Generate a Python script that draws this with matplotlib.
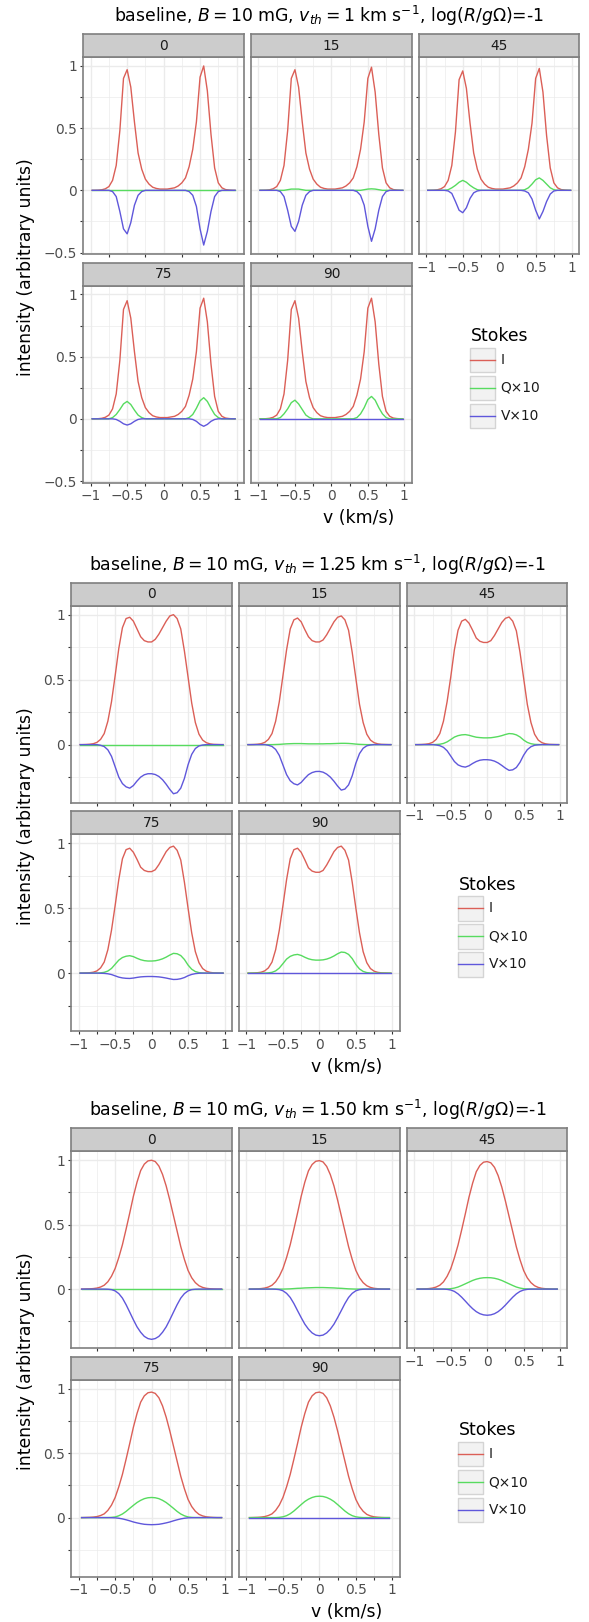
import matplotlib
matplotlib.use("Agg")
import matplotlib.pyplot as plt  # noqa: E402
from matplotlib.ticker import MultipleLocator, FuncFormatter  # noqa: E402
from matplotlib.patches import Rectangle  # noqa: E402

# ---- data: velocity grid (km/s) and Stokes profiles ----
ANGLES = ["0", "15", "45", "75", "90"]
VTH_LABELS = ["1", "1.25", "1.50"]

VEL_A = [-0.98, -0.95, -0.9, -0.85, -0.8, -0.75, -0.7, -0.65, -0.6, -0.55, -0.5,
         -0.45, -0.4, -0.35, -0.3, -0.25, -0.2, -0.15, -0.1, -0.05, 0.0,
         0.05, 0.1, 0.15, 0.2, 0.25, 0.3, 0.35, 0.4, 0.45, 0.5,
         0.55, 0.6, 0.65, 0.7, 0.75, 0.8, 0.85, 0.9, 0.95, 0.98]
VEL_B = [-0.96, -0.95, -0.9, -0.85, -0.8, -0.75, -0.7, -0.65, -0.6, -0.55, -0.5,
         -0.45, -0.4, -0.35, -0.3, -0.25, -0.2, -0.15, -0.1, -0.05, 0.0,
         0.05, 0.1, 0.15, 0.2, 0.25, 0.3, 0.35, 0.4, 0.45, 0.5,
         0.55, 0.6, 0.65, 0.7, 0.75, 0.8, 0.85, 0.9, 0.95, 0.96]

# block 1: v_th = 1 km/s
I1_0 = [0, 0, 0.001, 0.004, 0.012, 0.03, 0.08, 0.2, 0.48, 0.9, 0.97, 0.83, 0.55, 0.3, 0.17,
        0.09, 0.05, 0.025, 0.015, 0.01, 0.01, 0.01, 0.015, 0.02, 0.035, 0.06, 0.1, 0.19,
        0.33, 0.55, 0.91, 1.0, 0.8, 0.45, 0.18, 0.06, 0.02, 0.006, 0.002, 0, 0]
I1_15 = [0, 0, 0.001, 0.004, 0.012, 0.03, 0.08, 0.2, 0.48, 0.9, 0.97, 0.83, 0.55, 0.3, 0.17,
         0.09, 0.05, 0.025, 0.015, 0.01, 0.01, 0.01, 0.015, 0.02, 0.035, 0.06, 0.1, 0.19,
         0.33, 0.55, 0.9, 0.99, 0.79, 0.45, 0.18, 0.06, 0.02, 0.006, 0.002, 0, 0]
I1_45 = [0, 0, 0.001, 0.004, 0.012, 0.03, 0.08, 0.2, 0.47, 0.89, 0.96, 0.82, 0.54, 0.3, 0.17,
         0.09, 0.05, 0.025, 0.015, 0.01, 0.01, 0.01, 0.015, 0.02, 0.035, 0.06, 0.1, 0.19,
         0.33, 0.54, 0.9, 0.98, 0.79, 0.44, 0.18, 0.06, 0.02, 0.006, 0.002, 0, 0]
I1_75 = [0, 0, 0.001, 0.004, 0.012, 0.03, 0.08, 0.2, 0.47, 0.88, 0.95, 0.81, 0.54, 0.3, 0.17,
         0.09, 0.05, 0.025, 0.015, 0.01, 0.01, 0.01, 0.015, 0.02, 0.035, 0.06, 0.1, 0.19,
         0.32, 0.54, 0.89, 0.97, 0.78, 0.44, 0.18, 0.06, 0.02, 0.006, 0.002, 0, 0]
I1_90 = [0, 0, 0.001, 0.004, 0.012, 0.03, 0.08, 0.2, 0.47, 0.88, 0.95, 0.81, 0.54, 0.3, 0.17,
         0.09, 0.05, 0.025, 0.015, 0.01, 0.01, 0.01, 0.015, 0.02, 0.035, 0.06, 0.1, 0.19,
         0.32, 0.54, 0.89, 0.97, 0.78, 0.44, 0.18, 0.06, 0.02, 0.006, 0.002, 0, 0]
Q1_0 = [0] * 41
Q1_15 = [0, 0, 0, 0, 0, 0, 0, 0, 0.005, 0.01, 0.01, 0.01, 0.005, 0, 0,
         0, 0, 0, 0, 0, 0, 0, 0, 0, 0, 0, 0,
         0, 0, 0.005, 0.01, 0.012, 0.01, 0.005, 0, 0, 0, 0, 0, 0, 0]
Q1_45 = [0, 0, 0, 0, 0, 0, 0.005, 0.02, 0.04, 0.065, 0.08, 0.065, 0.04, 0.02, 0.005,
         0, 0, 0, 0, 0, 0, 0, 0, 0, 0, 0, 0,
         0.005, 0.02, 0.05, 0.085, 0.1, 0.08, 0.05, 0.02, 0.005, 0, 0, 0, 0, 0]
Q1_75 = [0, 0, 0, 0, 0, 0, 0.01, 0.035, 0.075, 0.12, 0.14, 0.115, 0.07, 0.03, 0.01,
         0, 0, 0, 0, 0, 0, 0, 0, 0, 0, 0, 0,
         0.01, 0.035, 0.085, 0.145, 0.17, 0.14, 0.085, 0.035, 0.01, 0, 0, 0, 0, 0]
Q1_90 = [0, 0, 0, 0, 0, 0, 0.01, 0.04, 0.08, 0.13, 0.15, 0.12, 0.075, 0.03, 0.01,
         0, 0, 0, 0, 0, 0, 0, 0, 0, 0, 0, 0,
         0.01, 0.04, 0.09, 0.155, 0.18, 0.15, 0.09, 0.04, 0.01, 0, 0, 0, 0, 0]
V1_0 = [0, 0, 0, 0, 0, 0, -0.01, -0.05, -0.17, -0.31, -0.35, -0.26, -0.12, -0.04, -0.01,
        0, 0, 0, 0, 0, 0, 0, 0, 0, 0, 0, 0,
        -0.01, -0.04, -0.13, -0.31, -0.44, -0.33, -0.17, -0.05, -0.01, 0, 0, 0, 0, 0]
V1_15 = [0, 0, 0, 0, 0, 0, -0.01, -0.05, -0.16, -0.29, -0.33, -0.25, -0.12, -0.04, -0.01,
         0, 0, 0, 0, 0, 0, 0, 0, 0, 0, 0, 0,
         -0.01, -0.04, -0.12, -0.29, -0.41, -0.31, -0.16, -0.05, -0.01, 0, 0, 0, 0, 0]
V1_45 = [0, 0, 0, 0, 0, 0, -0.005, -0.025, -0.09, -0.16, -0.18, -0.14, -0.065, -0.02, -0.005,
         0, 0, 0, 0, 0, 0, 0, 0, 0, 0, 0, 0,
         -0.005, -0.02, -0.07, -0.16, -0.23, -0.17, -0.09, -0.03, -0.005, 0, 0, 0, 0, 0]
V1_75 = [0, 0, 0, 0, 0, 0, 0, -0.005, -0.02, -0.04, -0.05, -0.04, -0.02, -0.005, 0,
         0, 0, 0, 0, 0, 0, 0, 0, 0, 0, 0, 0,
         0, -0.005, -0.02, -0.045, -0.06, -0.045, -0.02, -0.005, 0, 0, 0, 0, 0, 0]
V1_90 = [0] * 41

# block 2: v_th = 1.25 km/s
I2_0 = [0, 0, 0.001, 0.003, 0.007, 0.017, 0.04, 0.085, 0.18, 0.33, 0.53, 0.74, 0.9, 0.97,
        0.98, 0.95, 0.89, 0.83, 0.8, 0.79, 0.79, 0.81, 0.85, 0.9, 0.95, 0.99, 1.0, 0.97,
        0.89, 0.72, 0.52, 0.32, 0.17, 0.08, 0.035, 0.015, 0.006, 0.002, 0.001, 0, 0]
I2_15 = [0, 0, 0.001, 0.003, 0.007, 0.017, 0.04, 0.085, 0.18, 0.33, 0.53, 0.73, 0.89, 0.96,
         0.974, 0.945, 0.885, 0.83, 0.8, 0.79, 0.79, 0.805, 0.845, 0.895, 0.945, 0.98, 0.99,
         0.96, 0.88, 0.71, 0.51, 0.31, 0.17, 0.08, 0.035, 0.015, 0.006, 0.002, 0.001, 0, 0]
I2_45 = [0, 0, 0.001, 0.003, 0.007, 0.017, 0.04, 0.085, 0.18, 0.33, 0.52, 0.73, 0.88, 0.95,
         0.964, 0.935, 0.88, 0.82, 0.795, 0.786, 0.786, 0.8, 0.84, 0.89, 0.94, 0.972, 0.982,
         0.95, 0.875, 0.71, 0.51, 0.31, 0.17, 0.08, 0.035, 0.015, 0.006, 0.002, 0.001, 0, 0]
I2_75 = [0, 0, 0.001, 0.003, 0.007, 0.017, 0.04, 0.085, 0.18, 0.33, 0.52, 0.72, 0.88, 0.95,
         0.961, 0.93, 0.875, 0.815, 0.79, 0.781, 0.781, 0.795, 0.835, 0.885, 0.935, 0.967,
         0.977, 0.945, 0.87, 0.7, 0.5, 0.31, 0.165, 0.08, 0.035, 0.015, 0.006, 0.002, 0.001,
         0, 0]
I2_90 = [0, 0, 0.001, 0.003, 0.007, 0.017, 0.04, 0.085, 0.18, 0.33, 0.52, 0.72, 0.88, 0.95,
         0.961, 0.93, 0.872, 0.81, 0.785, 0.776, 0.776, 0.79, 0.832, 0.883, 0.935, 0.967,
         0.977, 0.945, 0.87, 0.7, 0.5, 0.31, 0.165, 0.08, 0.035, 0.015, 0.006, 0.002, 0.001,
         0, 0]
Q2_0 = [0] * 41
Q2_15 = [0, 0, 0, 0, 0, 0, 0, 0, 0.001, 0.002, 0.004, 0.006, 0.007, 0.008, 0.008, 0.008,
         0.007, 0.006, 0.006, 0.006, 0.006, 0.006, 0.007, 0.007, 0.008, 0.009, 0.01, 0.01,
         0.009, 0.007, 0.004, 0.002, 0.001, 0, 0, 0, 0, 0, 0, 0, 0]
Q2_45 = [0, 0, 0, 0, 0, 0, 0.001, 0.003, 0.009, 0.021, 0.039, 0.058, 0.069, 0.075, 0.077,
         0.072, 0.064, 0.057, 0.054, 0.052, 0.052, 0.053, 0.057, 0.062, 0.069, 0.078, 0.085,
         0.083, 0.075, 0.059, 0.035, 0.017, 0.007, 0.002, 0.001, 0, 0, 0, 0, 0, 0]
Q2_75 = [0, 0, 0, 0, 0, 0, 0.002, 0.006, 0.016, 0.036, 0.068, 0.1, 0.12, 0.13, 0.134,
         0.127, 0.114, 0.103, 0.096, 0.093, 0.093, 0.095, 0.101, 0.11, 0.123, 0.139, 0.152,
         0.149, 0.135, 0.105, 0.062, 0.03, 0.012, 0.004, 0.001, 0, 0, 0, 0, 0, 0]
Q2_90 = [0, 0, 0, 0, 0, 0, 0.002, 0.006, 0.017, 0.039, 0.073, 0.108, 0.129, 0.14, 0.144,
         0.136, 0.122, 0.11, 0.103, 0.1, 0.1, 0.102, 0.108, 0.118, 0.132, 0.149, 0.162,
         0.159, 0.144, 0.112, 0.066, 0.032, 0.013, 0.004, 0.001, 0, 0, 0, 0, 0, 0]
V2_0 = [0, 0, 0, 0, 0, 0, -0.005, -0.015, -0.04, -0.09, -0.17, -0.25, -0.3, -0.325, -0.335,
        -0.315, -0.28, -0.25, -0.232, -0.224, -0.224, -0.23, -0.245, -0.27, -0.305, -0.345,
        -0.378, -0.37, -0.335, -0.26, -0.155, -0.075, -0.03, -0.01, -0.003, 0, 0, 0, 0, 0, 0]
V2_15 = [0, 0, 0, 0, 0, 0, -0.005, -0.014, -0.037, -0.083, -0.157, -0.231, -0.278, -0.301,
         -0.31, -0.291, -0.259, -0.231, -0.215, -0.207, -0.206, -0.212, -0.227, -0.25, -0.282,
         -0.319, -0.35, -0.342, -0.31, -0.24, -0.143, -0.069, -0.028, -0.009, -0.003,
         0, 0, 0, 0, 0, 0]
V2_45 = [0, 0, 0, 0, 0, 0, -0.003, -0.008, -0.021, -0.047, -0.088, -0.13, -0.156, -0.168,
         -0.173, -0.163, -0.145, -0.13, -0.12, -0.116, -0.116, -0.119, -0.127, -0.141, -0.16,
         -0.181, -0.198, -0.194, -0.176, -0.136, -0.081, -0.039, -0.016, -0.005, -0.002,
         0, 0, 0, 0, 0, 0]
V2_75 = [0, 0, 0, 0, 0, 0, -0.001, -0.002, -0.005, -0.011, -0.021, -0.031, -0.037, -0.04,
         -0.041, -0.038, -0.033, -0.029, -0.027, -0.026, -0.026, -0.027, -0.029, -0.033,
         -0.038, -0.044, -0.049, -0.048, -0.043, -0.034, -0.02, -0.01, -0.004, -0.001, 0,
         0, 0, 0, 0, 0, 0]
V2_90 = [0] * 41

# block 3: v_th = 1.50 km/s
I3_0 = [0, 0, 0.001, 0.002, 0.004, 0.008, 0.016, 0.03, 0.057, 0.1, 0.16, 0.245, 0.345,
        0.465, 0.59, 0.72, 0.83, 0.92, 0.97, 0.995, 1.0, 0.99, 0.955, 0.89, 0.8, 0.69, 0.57,
        0.45, 0.33, 0.23, 0.145, 0.088, 0.05, 0.026, 0.013, 0.006, 0.003, 0.001, 0, 0, 0]
I3_15 = [0, 0, 0.001, 0.002, 0.004, 0.008, 0.016, 0.03, 0.057, 0.1, 0.16, 0.245, 0.345,
         0.465, 0.59, 0.72, 0.83, 0.918, 0.967, 0.992, 0.997, 0.987, 0.952, 0.888, 0.8, 0.69,
         0.57, 0.45, 0.33, 0.23, 0.145, 0.088, 0.05, 0.026, 0.013, 0.006, 0.003, 0.001, 0, 0, 0]
I3_45 = [0, 0, 0.001, 0.002, 0.004, 0.008, 0.016, 0.03, 0.056, 0.099, 0.158, 0.243, 0.342,
         0.46, 0.584, 0.713, 0.822, 0.911, 0.96, 0.985, 0.99, 0.98, 0.945, 0.881, 0.792,
         0.683, 0.564, 0.446, 0.327, 0.228, 0.144, 0.087, 0.05, 0.026, 0.013, 0.006, 0.003,
         0.001, 0, 0, 0]
I3_75 = [0, 0, 0.001, 0.002, 0.004, 0.008, 0.016, 0.029, 0.056, 0.097, 0.156, 0.239, 0.336,
         0.453, 0.575, 0.701, 0.808, 0.896, 0.945, 0.969, 0.974, 0.964, 0.93, 0.867, 0.779,
         0.672, 0.555, 0.438, 0.321, 0.224, 0.141, 0.086, 0.049, 0.025, 0.013, 0.006, 0.003,
         0.001, 0, 0, 0]
I3_90 = [0, 0, 0.001, 0.002, 0.004, 0.008, 0.016, 0.029, 0.056, 0.097, 0.156, 0.239, 0.336,
         0.453, 0.575, 0.701, 0.808, 0.896, 0.945, 0.969, 0.974, 0.964, 0.93, 0.867, 0.779,
         0.672, 0.555, 0.438, 0.321, 0.224, 0.141, 0.086, 0.049, 0.025, 0.013, 0.006, 0.003,
         0.001, 0, 0, 0]
Q3_0 = [0] * 41
Q3_15 = [0, 0, 0, 0, 0, 0, 0, 0, 0, 0, 0, 0.001, 0.002, 0.004, 0.006, 0.007, 0.009, 0.01,
         0.011, 0.012, 0.012, 0.012, 0.011, 0.01, 0.009, 0.007, 0.006, 0.004, 0.002, 0.001,
         0, 0, 0, 0, 0, 0, 0, 0, 0, 0, 0]
Q3_45 = [0, 0, 0, 0, 0, 0, 0, 0, 0, 0.001, 0.003, 0.008, 0.016, 0.028, 0.041, 0.054, 0.067,
         0.077, 0.084, 0.088, 0.089, 0.088, 0.084, 0.077, 0.067, 0.054, 0.041, 0.028, 0.016,
         0.008, 0.003, 0.001, 0, 0, 0, 0, 0, 0, 0, 0, 0]
Q3_75 = [0, 0, 0, 0, 0, 0, 0, 0, 0, 0.002, 0.005, 0.014, 0.028, 0.048, 0.072, 0.095, 0.117,
         0.134, 0.147, 0.154, 0.156, 0.154, 0.147, 0.134, 0.117, 0.095, 0.072, 0.048, 0.028,
         0.014, 0.005, 0.002, 0, 0, 0, 0, 0, 0, 0, 0, 0]
Q3_90 = [0, 0, 0, 0, 0, 0, 0, 0, 0, 0.002, 0.006, 0.015, 0.03, 0.051, 0.076, 0.101, 0.125,
         0.143, 0.156, 0.164, 0.166, 0.164, 0.156, 0.143, 0.125, 0.101, 0.076, 0.051, 0.03,
         0.015, 0.006, 0.002, 0, 0, 0, 0, 0, 0, 0, 0, 0]
V3_0 = [0, 0, 0, 0, 0, 0, 0, 0, -0.001, -0.004, -0.014, -0.035, -0.07, -0.121, -0.179,
        -0.238, -0.293, -0.335, -0.367, -0.384, -0.39, -0.384, -0.367, -0.335, -0.293, -0.238,
        -0.179, -0.121, -0.07, -0.035, -0.014, -0.004, -0.001, 0, 0, 0, 0, 0, 0, 0, 0]
V3_15 = [0, 0, 0, 0, 0, 0, 0, 0, -0.001, -0.004, -0.013, -0.033, -0.065, -0.112, -0.167,
         -0.221, -0.272, -0.311, -0.34, -0.357, -0.362, -0.357, -0.34, -0.311, -0.272, -0.221,
         -0.167, -0.112, -0.065, -0.033, -0.013, -0.004, -0.001, 0, 0, 0, 0, 0, 0, 0, 0]
V3_45 = [0, 0, 0, 0, 0, 0, 0, 0, 0, -0.002, -0.007, -0.018, -0.037, -0.063, -0.093, -0.124,
         -0.152, -0.175, -0.191, -0.2, -0.203, -0.2, -0.191, -0.175, -0.152, -0.124, -0.093,
         -0.063, -0.037, -0.018, -0.007, -0.002, 0, 0, 0, 0, 0, 0, 0, 0, 0]
V3_75 = [0, 0, 0, 0, 0, 0, 0, 0, 0, -0.001, -0.002, -0.005, -0.01, -0.017, -0.025, -0.034,
         -0.041, -0.047, -0.052, -0.054, -0.055, -0.054, -0.052, -0.047, -0.041, -0.034,
         -0.025, -0.017, -0.01, -0.005, -0.002, -0.001, 0, 0, 0, 0, 0, 0, 0, 0, 0]
V3_90 = [0] * 41

BLOCKS = [
    (VEL_A, [I1_0, I1_15, I1_45, I1_75, I1_90], [Q1_0, Q1_15, Q1_45, Q1_75, Q1_90],
     [V1_0, V1_15, V1_45, V1_75, V1_90]),
    (VEL_A, [I2_0, I2_15, I2_45, I2_75, I2_90], [Q2_0, Q2_15, Q2_45, Q2_75, Q2_90],
     [V2_0, V2_15, V2_45, V2_75, V2_90]),
    (VEL_B, [I3_0, I3_15, I3_45, I3_75, I3_90], [Q3_0, Q3_15, Q3_45, Q3_75, Q3_90],
     [V3_0, V3_15, V3_45, V3_75, V3_90]),
]
SERIES = ["I", "Q×10", "V×10"]
COLORS = ["#db5f57", "#57db5f", "#5f57db"]

# ---- layout (pixels, top-left origin) ----
W, H = 589, 1622
BLOCK_TOP = [34, 582.7, 1128.3]
BLOCK_LEFT = [83.4, 71.4, 71.4]
PW, PH, STRIP_H = 160.4, 197, 23
COL_STEP, ROW_STEP = 167.8, 228.5
BASE = 12.4
BORDER = "#7f7f7f"
GRID = "#ebebeb"
TICK = "#333333"
TXT = "#4d4d4d"


def box(x, y, w, h):
    return [x / W, 1 - (y + h) / H, w / W, h / H]


def ftext(fig, x, y, s, **kw):
    fig.text(x / W, 1 - y / H, s, **kw)


fmt = FuncFormatter(lambda v, p: f"{v:g}".replace("-", "\u2212"))


def draw_block(fig, ov, b):
    vel, Is, Qs, Vs = BLOCKS[b]
    top, left = BLOCK_TOP[b], BLOCK_LEFT[b]
    first = None
    for k, ang in enumerate(ANGLES):
        row, col = divmod(k, 3)
        x = left + col * COL_STEP
        y = top + row * ROW_STEP
        ax = fig.add_axes(box(x, y + STRIP_H, PW, PH), sharex=first, sharey=first)
        if first is None:
            first = ax
        for ys, c in zip([Is[k], Qs[k], Vs[k]], COLORS):
            ax.plot(vel, ys, color=c, lw=1.0, zorder=3)
        ax.set_xlim(-1.1, 1.1)
        ax.xaxis.set_major_locator(MultipleLocator(0.5))
        ax.xaxis.set_minor_locator(MultipleLocator(0.25))
        ax.yaxis.set_major_locator(MultipleLocator(0.5))
        ax.yaxis.set_minor_locator(MultipleLocator(0.25))
        ax.xaxis.set_major_formatter(fmt)
        ax.yaxis.set_major_formatter(fmt)
        ax.set_axisbelow(True)
        ax.grid(which="major", color=GRID, lw=1.0)
        ax.grid(which="minor", color=GRID, lw=0.5)
        for s in ax.spines.values():
            s.set_color(BORDER)
            s.set_linewidth(1.2)
        ax.tick_params(which="both", direction="out", length=2.3, width=0.8,
                       color=TICK, labelcolor=TXT, labelsize=BASE * 0.8, pad=2.5)
        bottom_out = (row == 1) or col == 2
        left_out = col == 0
        if not bottom_out:
            ax.tick_params(axis="x", which="major", length=0, labelbottom=False)
        if not left_out:
            ax.tick_params(axis="y", which="major", length=0, labelleft=False)

        sax = fig.add_axes(box(x, y, PW, STRIP_H))
        sax.set_facecolor("#cccccc")
        sax.set_xticks([])
        sax.set_yticks([])
        for s in sax.spines.values():
            s.set_color(BORDER)
            s.set_linewidth(1.2)
        sax.text(0.5, 0.5, ang, ha="center", va="center", fontsize=BASE * 0.8,
                 color="#1a1a1a", transform=sax.transAxes)

    ftext(fig, left + 246, top - 12,
          "baseline, $B = 10$ mG, $v_{th} = " + VTH_LABELS[b] + "$ km s$^{-1}$, "
          "log($R/g\\Omega$)=-1", ha="center", va="baseline", fontsize=BASE)
    ftext(fig, 26.3, top + 233, "intensity (arbitrary units)", rotation=90,
          ha="center", va="center", fontsize=BASE)
    ftext(fig, left + 275.5, top + 484, "v (km/s)", ha="center", va="center",
          fontsize=BASE)

    # legend
    lx = left + 387
    ftext(fig, lx, top + 302, "Stokes", ha="left", va="center", fontsize=BASE)
    for j, (lab, c) in enumerate(zip(SERIES, COLORS)):
        ky = top + 313.5 + j * 28
        ov.add_patch(Rectangle((lx, ky), 24.5, 24.5, facecolor="#f2f2f2",
                               edgecolor="#d4d4d4", lw=1.0))
        ov.plot([lx, lx + 24.5], [ky + 12.25, ky + 12.25], color=c, lw=1.0)
        ftext(fig, lx + 30, ky + 12.25, lab, ha="left", va="center",
              fontsize=BASE * 0.8, color="#1a1a1a")


def main():
    fig = plt.figure(figsize=(W / 100, H / 100), dpi=100)
    ov = fig.add_axes([0, 0, 1, 1], zorder=-1)
    ov.set_xlim(0, W)
    ov.set_ylim(H, 0)
    ov.axis("off")
    for b in range(3):
        draw_block(fig, ov, b)
    fig.savefig("out.png", dpi=100, facecolor="white")


if __name__ == "__main__":
    main()
